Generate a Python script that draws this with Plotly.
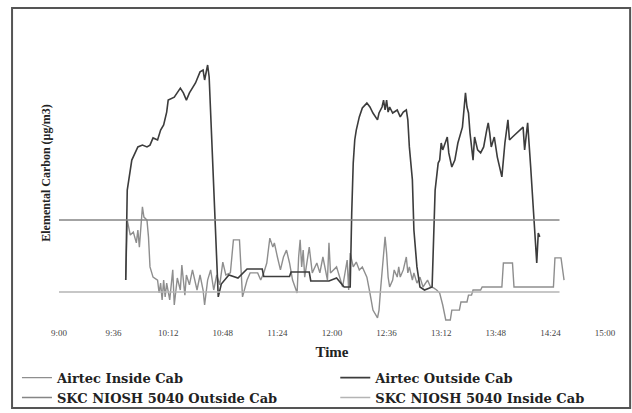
import plotly.graph_objects as go

# ---- data ----
tick_labels = ["9:00", "9:36", "10:12", "10:48", "11:24", "12:00",
               "12:36", "13:12", "13:48", "14:24", "15:00"]

outside_time = ["9:44", "9:45", "9:48", "9:49", "9:52", "9:55", "9:58", "10:00", "10:02", "10:05",
                "10:07", "10:09", "10:11", "10:12", "10:15", "10:16", "10:20", "10:22", "10:24", "10:26",
                "10:30", "10:33", "10:35", "10:36", "10:38", "10:39", "10:41", "10:43", "10:45",
                "10:47", "10:52", "10:58", "11:04", "11:14", "11:15", "11:32", "11:33", "11:45", "11:46",
                "11:58", "12:03", "12:08", "12:12",
                "12:13", "12:14", "12:15", "12:16", "12:18", "12:20", "12:23", "12:25", "12:27", "12:30",
                "12:31", "12:33", "12:34", "12:35", "12:36", "12:37", "12:38", "12:40", "12:43", "12:45",
                "12:47", "12:49", "12:50", "12:51", "12:53", "12:54", "12:56", "12:58",
                "13:01", "13:05", "13:06",
                "13:08", "13:09", "13:10", "13:11", "13:12", "13:13", "13:16", "13:17", "13:19", "13:21",
                "13:23", "13:26", "13:27", "13:28", "13:29", "13:30", "13:31", "13:32", "13:33", "13:34",
                "13:36", "13:38", "13:40", "13:42", "13:43", "13:44", "13:45", "13:47", "13:49", "13:52",
                "13:53", "13:54", "13:56", "13:57", "13:59", "14:02", "14:04", "14:06", "14:07", "14:09",
                "14:11", "14:13", "14:14", "14:15", "14:16", "14:17"]
outside_value = [13.3, 43.3, 53.3, 54.3, 57.7, 58.3, 57.7, 58.3, 60.7, 60.0,
                 63.3, 65.0, 69.3, 73.3, 74.0, 74.3, 77.3, 75.7, 73.3, 75.7,
                 79.0, 82.7, 83.3, 80.0, 85.0, 81.0, 56.7, 32.3, 7.7,
                 12.0, 15.0, 14.0, 17.0, 17.0, 14.5, 14.5, 16.0, 16.0, 13.0,
                 13.0, 14.0, 11.0, 11.0,
                 35.7, 52.3, 60.0, 63.3, 67.7, 70.7, 72.3, 71.0, 69.0, 66.7,
                 69.0, 71.0, 73.3, 70.0, 73.3, 69.3, 71.0, 69.0, 70.0, 67.7,
                 69.3, 70.0, 66.7, 57.7, 46.7, 30.0, 17.7, 11.0,
                 10.0, 10.7, 11.0,
                 43.3, 49.0, 52.3, 53.3, 59.0, 56.7, 61.0, 55.7, 51.0, 53.3,
                 59.0, 64.3, 69.0, 75.7, 71.0, 69.0, 62.3, 57.7, 53.3, 61.0,
                 56.7, 55.7, 57.7, 63.3, 65.7, 62.3, 57.7, 61.0, 54.3, 47.7,
                 53.3, 59.0, 66.7, 60.0, 61.0, 62.3, 63.3, 64.3, 56.7, 65.7,
                 51.0, 35.7, 27.7, 19.0, 29.0, 27.7]

inside_time = ["9:44", "9:45", "9:47", "9:49", "9:51", "9:52", "9:53", "9:55", "9:56", "9:58",
               "9:59", "10:00", "10:02", "10:05", "10:06", "10:07", "10:08", "10:09", "10:10", "10:11",
               "10:13", "10:15", "10:16", "10:18", "10:20", "10:21", "10:23", "10:24", "10:26", "10:28",
               "10:31", "10:33", "10:35", "10:36", "10:38", "10:40", "10:42", "10:44", "10:46", "10:48",
               "10:50", "10:53", "10:55", "10:59", "11:01", "11:04", "11:06", "11:11", "11:13", "11:15",
               "11:17", "11:19", "11:21", "11:22", "11:24", "11:26", "11:28", "11:30", "11:32", "11:34",
               "11:37", "11:38", "11:39", "11:40", "11:41", "11:42", "11:45", "11:47", "11:50", "11:52",
               "11:54", "11:57", "11:58", "11:59", "12:03", "12:07", "12:10", "12:11", "12:12", "12:14",
               "12:16", "12:18", "12:20", "12:23", "12:25", "12:26", "12:27", "12:30", "12:31", "12:32",
               "12:34", "12:35", "12:36", "12:37", "12:38", "12:40", "12:41", "12:43", "12:44", "12:45",
               "12:47", "12:49", "12:50", "12:51", "12:53", "12:54", "12:56", "12:58", "13:00", "13:03",
               "13:05", "13:07", "13:09", "13:11", "13:13", "13:15", "13:18", "13:19", "13:24", "13:25",
               "13:29", "13:30", "13:32", "13:33", "13:38", "13:39", "13:52", "13:53", "13:59", "14:00",
               "14:16", "14:26", "14:27", "14:31", "14:33"]
inside_value = [13.3, 33.3, 28.3, 29.3, 25.7, 30.0, 24.3, 37.7, 34.3, 33.3,
                27.7, 17.7, 14.3, 13.3, 9.0, 12.3, 6.7, 13.3, 7.7, 12.3,
                6.7, 16.7, 5.0, 14.0, 10.0, 18.3, 8.3, 15.0, 11.7, 16.7,
                10.0, 15.0, 10.0, 5.0, 13.3, 16.7, 10.0, 15.0, 11.7, 19.3,
                15.0, 15.7, 26.7, 26.7, 7.7, 13.3, 15.7, 15.7, 13.3, 15.7,
                19.0, 27.3, 24.3, 25.7, 21.0, 16.7, 21.0, 23.3, 19.0, 13.3,
                9.0, 21.0, 26.7, 17.7, 23.3, 14.3, 24.3, 15.7, 19.0, 15.7,
                21.0, 13.3, 25.7, 15.7, 17.7, 11.0, 20.0, 10.0, 22.3, 17.7,
                19.3, 16.7, 17.7, 14.3, 9.0, 5.7, 3.3, 0.7, 3.3, 10.0,
                22.3, 27.7, 22.3, 14.3, 11.0, 13.3, 16.7, 14.3, 17.7, 14.3,
                16.7, 21.0, 15.7, 17.7, 13.3, 15.7, 12.3, 14.3, 11.0, 13.3,
                11.0, 10.7, 10.0, 9.0, 5.0, 0.0, 0.0, 3.3, 3.3, 6.0,
                6.0, 8.3, 8.3, 10.0, 10.0, 11.0, 11.0, 19.0, 19.0, 11.0,
                11.0, 11.0, 20.7, 20.7, 13.3]

skc_time = ["9:00", "14:30"]
skc_outside_value = [33.3, 33.3]
skc_inside_value = [9.3, 9.3]


def hours(s):
    h, m = s.split(":")
    return int(h) + int(m) / 60.0


SERIF = "Liberation Serif"
LEG_FONT = dict(family="DejaVu Serif", size=13, color="#222", weight="bold")

fig = go.Figure()
fig.add_trace(go.Scatter(x=[hours(t) for t in inside_time], y=inside_value,
                         mode="lines", name="Airtec Inside Cab", legend="legend",
                         line=dict(color="#8e8e8e", width=1.4)))
fig.add_trace(go.Scatter(x=[hours(t) for t in outside_time], y=outside_value,
                         mode="lines", name="Airtec Outside Cab", legend="legend2",
                         line=dict(color="#3c3c3c", width=1.6)))
fig.add_trace(go.Scatter(x=[hours(t) for t in skc_time], y=skc_outside_value,
                         mode="lines", name="SKC NIOSH 5040 Outside Cab", legend="legend",
                         line=dict(color="#858585", width=1.5)))
fig.add_trace(go.Scatter(x=[hours(t) for t in skc_time], y=skc_inside_value,
                         mode="lines", name="SKC NIOSH 5040 Inside Cab", legend="legend2",
                         line=dict(color="#b4b4b4", width=1.5)))

leg_common = dict(orientation="v", xanchor="left", yanchor="top", y=-0.12,
                  font=LEG_FONT, bgcolor="rgba(0,0,0,0)", itemwidth=30,
                  tracegroupgap=0, traceorder="normal")

fig.update_layout(
    width=632, height=413,
    margin=dict(l=59, r=27, t=20, b=87, autoexpand=False),
    paper_bgcolor="white", plot_bgcolor="white",
    font=dict(family=SERIF, color="#222"),
    showlegend=True,
    legend=dict(x=-0.077, **leg_common),
    legend2=dict(x=0.506, **leg_common),
    xaxis=dict(range=[9, 15], tickvals=[hours(t) for t in tick_labels], ticktext=tick_labels,
               showgrid=False, zeroline=False, showline=False, ticks="", automargin=False,
               tickfont=dict(family=SERIF, size=9, color="#444"),
               title=dict(text="<b>Time</b>", font=dict(family=SERIF, size=15, color="#222"), standoff=9)),
    yaxis=dict(range=[-2, 100], showticklabels=False, showgrid=False, zeroline=False,
               showline=False, ticks="", automargin=False,
               title=dict(text="<b>Elemental Carbon (μg/m3)</b>",
                          font=dict(family=SERIF, size=12, color="#222"), standoff=4)),
    shapes=[dict(type="rect", xref="paper", yref="paper",
                 x0=-0.086, x1=1.046, y0=-0.268, y1=1.039,
                 line=dict(color="#555", width=2), fillcolor="rgba(0,0,0,0)", layer="below")],
)

fig.write_html("out.html", config={"displayModeBar": False},
               post_script="document.body.style.margin='0';document.body.style.overflow='hidden';")
